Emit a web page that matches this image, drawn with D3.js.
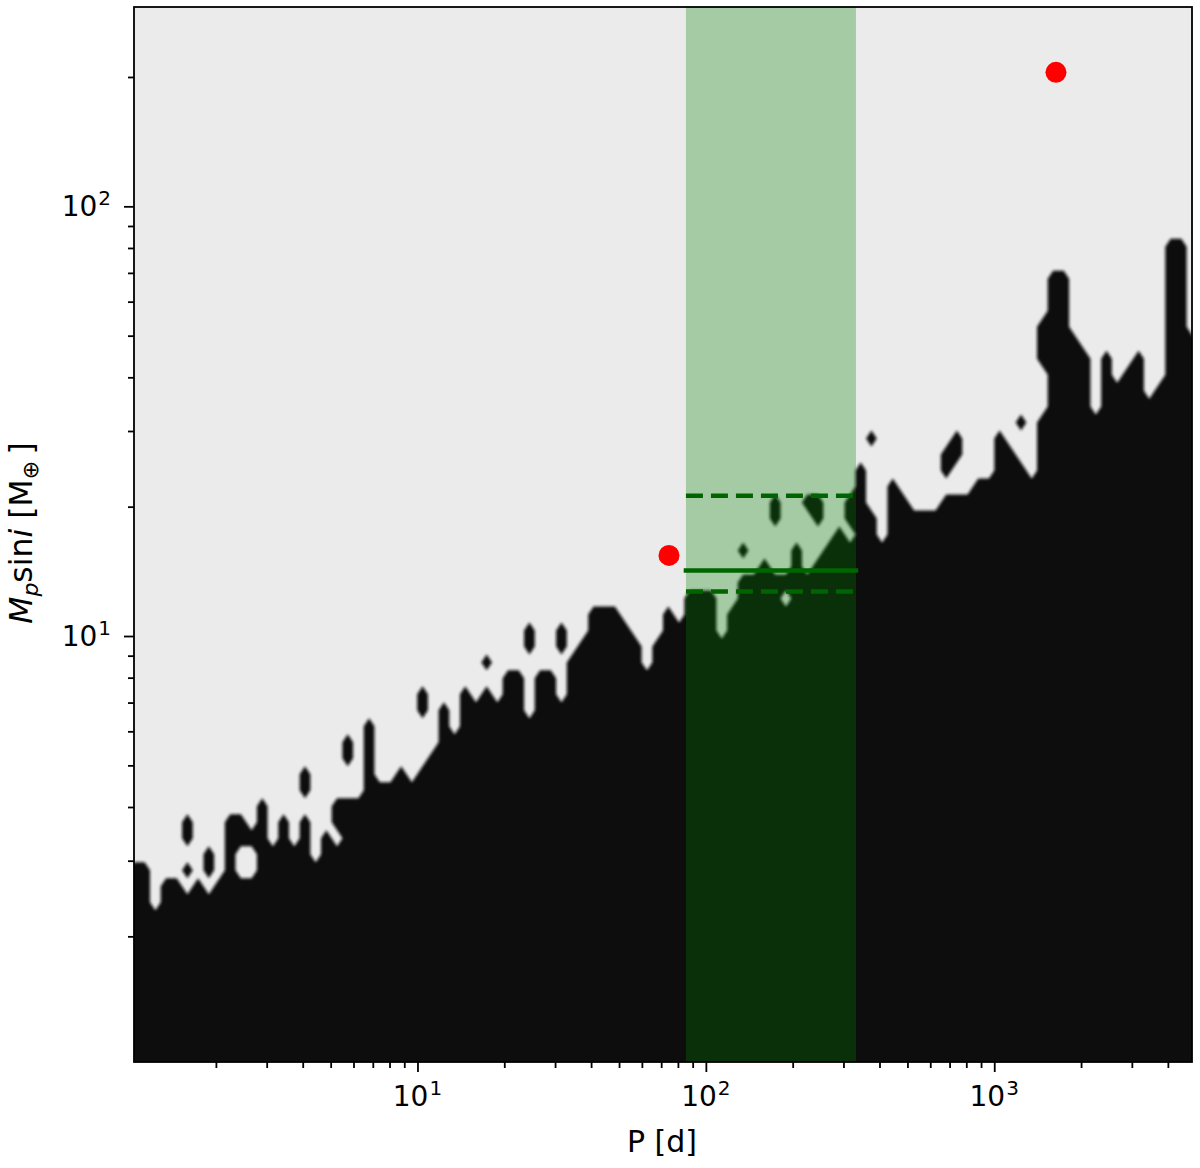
<!DOCTYPE html>
<html>
<head>
<meta charset="utf-8">
<script src="https://cdn.jsdelivr.net/npm/d3@7"></script>
<style>
  body { margin: 0; background: #fff; }
  text { font-family: "DejaVu Sans", sans-serif; fill: #000; }
</style>
</head>
<body>
<svg id="chart" width="1200" height="1168"></svg>
<script>
// detection map: 100 period columns x 67 mass rows, log spaced
const periodRange = [1.04, 4850];
const massRange = [1.02, 291];
const nCols = 100, nRows = 67;

// highest detected mass in every period column [M_earth]
const detLimit = [
  2.85, 2.85, 2.21, 2.62, 2.62, 2.85, 2.62, 3.11, 2.62, 3.69,
  3.69, 3.38, 4.02, 3.11, 3.69, 3.11, 3.69, 2.85, 3.38, 4.02,
  4.02, 4.02, 6.17, 4.38, 4.38, 4.77, 4.38, 4.77, 5.19, 6.72,
  5.66, 7.32, 6.72, 7.32, 6.72, 7.97, 7.97, 6.17, 7.97, 7.97,
  6.72, 8.68, 9.46, 11.2, 11.2, 11.2, 10.3, 9.46, 7.97, 9.46,
  11.2, 10.3, 12.2, 12.2, 12.2, 9.46, 11.2, 13.3, 13.3, 14.5,
  13.3, 13.3, 15.8, 13.3, 14.5, 15.8, 17.2, 20.5, 24.3, 18.8,
  15.8, 22.3, 20.5, 18.8, 18.8, 18.8, 20.5, 20.5, 20.5, 22.3,
  22.3, 28.8, 26.4, 24.3, 22.3, 31.4, 67.9, 67.9, 48.2, 44.2,
  31.4, 44.2, 37.3, 40.6, 44.2, 34.2, 37.3, 80.5, 80.5, 48.2
];

// detected cells lying above the limit: [period, mass low, mass high]
const islands = [
  [1.59, 3.38, 3.69], [4.07, 4.38, 4.77], [5.73, 5.19, 5.66],
  [10.4, 6.72, 7.32], [17.0, 8.68, 8.68], [24.5, 9.46, 10.3],
  [31.6, 9.46, 10.3], [135, 15.8, 15.8], [174, 18.8, 20.5],
  [225, 20.5, 20.5], [245, 18.8, 20.5], [375, 28.8, 28.8],
  [682, 24.3, 26.4], [742, 26.4, 28.8], [1239, 31.4, 31.4],
  [1469, 44.2, 52.5]
];

// undetected cells lying below the limit: [period, mass low, mass high]
const holes = [
  [1.59, 2.62, 2.62], [1.89, 2.62, 2.62], [2.44, 2.85, 3.11],
  [2.66, 2.85, 3.11], [5.26, 3.38, 3.38], [190, 12.2, 12.2],
  [316, 17.2, 17.2]
];

const hzPeriod = [85.3, 331.5];     // shaded period band
const fitMass = 14.2;               // solid line
const fitMassRange = [12.7, 21.2];  // dashed lines
const planets = [[74.5, 15.4], [1637, 205]];

const xTicks = [10, 100, 1000];
const yTicks = [10, 100];

const pLeft = 134, pRight = 1192, pTop = 7, pBottom = 1062;

const x = d3.scaleLog().domain(periodRange).range([pLeft, pRight]);
const y = d3.scaleLog().domain(massRange).range([pBottom, pTop]);

const svg = d3.select('#chart');
const defs = svg.append('defs');
defs.append('clipPath').attr('id', 'plotClip')
    .append('rect')
    .attr('x', pLeft).attr('y', pTop)
    .attr('width', pRight - pLeft).attr('height', pBottom - pTop);
defs.append('filter').attr('id', 'soft')
    .append('feGaussianBlur').attr('stdDeviation', 1.6);

const plot = svg.append('g').attr('clip-path', 'url(#plotClip)');

plot.append('rect')
    .attr('x', pLeft).attr('y', pTop)
    .attr('width', pRight - pLeft).attr('height', pBottom - pTop)
    .attr('fill', '#ebebeb');

// grid of detected (1) / not detected (0) cells
const lp0 = Math.log10(periodRange[0]);
const stepP = (Math.log10(periodRange[1]) - lp0) / (nCols - 1);
const lm0 = Math.log10(massRange[0]);
const stepM = (Math.log10(massRange[1]) - lm0) / (nRows - 1);
const colOf = p => Math.round((Math.log10(p) - lp0) / stepP);
const rowOf = m => Math.round((Math.log10(m) - lm0) / stepM);

const grid = new Array(nCols * nRows).fill(0);
detLimit.forEach((m, c) => {
    const topRow = rowOf(m);
    for (let r = 0; r <= topRow; r++) grid[r * nCols + c] = 1;
});
islands.forEach(([p, lo, hi]) => {
    const c = colOf(p);
    for (let r = rowOf(lo); r <= rowOf(hi); r++) grid[r * nCols + c] = 1;
});
holes.forEach(([p, lo, hi]) => {
    const c = colOf(p);
    for (let r = rowOf(lo); r <= rowOf(hi); r++) grid[r * nCols + c] = 0;
});

const contours = d3.contours().size([nCols, nRows]).thresholds([0.5])(grid);

const toScreen = d3.geoTransform({
    point(cx, cy) {
        this.stream.point(
            x(10 ** (lp0 + (cx - 0.5) * stepP)),
            y(10 ** (lm0 + (cy - 0.5) * stepM))
        );
    }
});

plot.append('path')
    .datum(contours[0])
    .attr('d', d3.geoPath(toScreen))
    .attr('fill', '#111111')
    .attr('filter', 'url(#soft)');

// shaded band
plot.append('rect')
    .attr('x', x(hzPeriod[0]))
    .attr('width', x(hzPeriod[1]) - x(hzPeriod[0]))
    .attr('y', pTop).attr('height', pBottom - pTop)
    .attr('fill', 'green')
    .attr('fill-opacity', 0.3);

plot.append('line')
    .attr('x1', x(hzPeriod[0])).attr('x2', x(hzPeriod[1]))
    .attr('y1', y(fitMass)).attr('y2', y(fitMass))
    .attr('stroke', '#006400').attr('stroke-width', 4.5)
    .attr('stroke-linecap', 'square');

plot.selectAll('.err-line')
    .data(fitMassRange)
    .enter().append('line')
    .attr('class', 'err-line')
    .attr('x1', x(hzPeriod[0])).attr('x2', x(hzPeriod[1]))
    .attr('y1', d => y(d)).attr('y2', d => y(d))
    .attr('stroke', '#006400').attr('stroke-width', 4.5)
    .attr('stroke-dasharray', '17,8');

plot.selectAll('.planet')
    .data(planets)
    .enter().append('circle')
    .attr('class', 'planet')
    .attr('cx', d => x(d[0]))
    .attr('cy', d => y(d[1]))
    .attr('r', 10.5)
    .attr('fill', '#ff0000');

// axes
const isPow10 = v => Math.abs(Math.log10(v) - Math.round(Math.log10(v))) < 1e-9;
const xMinor = x.ticks().filter(v => !isPow10(v));
const yMinor = y.ticks().filter(v => !isPow10(v));

function styleAxis(g) {
    g.select('.domain').remove();
    g.selectAll('.tick line').attr('stroke', '#000').attr('stroke-width', 1.8);
    g.selectAll('.tick text').remove();
}

svg.append('g').attr('transform', `translate(0,${pBottom})`)
    .call(d3.axisBottom(x).tickValues(xTicks).tickSize(10)).call(styleAxis);
svg.append('g').attr('transform', `translate(0,${pBottom})`)
    .call(d3.axisBottom(x).tickValues(xMinor).tickSize(6)).call(styleAxis);
svg.append('g').attr('transform', `translate(${pLeft},0)`)
    .call(d3.axisLeft(y).tickValues(yTicks).tickSize(10)).call(styleAxis);
svg.append('g').attr('transform', `translate(${pLeft},0)`)
    .call(d3.axisLeft(y).tickValues(yMinor).tickSize(6)).call(styleAxis);

function powLabel(sel) {
    sel.append('tspan').text('10');
    sel.append('tspan')
        .attr('dy', -11)
        .attr('dx', 1)
        .style('font-size', '20px')
        .text(d => Math.round(Math.log10(d)));
}

svg.selectAll('.xlab')
    .data(xTicks)
    .enter().append('text')
    .attr('class', 'xlab')
    .attr('x', d => x(d))
    .attr('y', 1105.5)
    .attr('text-anchor', 'middle')
    .style('font-size', '28px')
    .call(powLabel);

svg.selectAll('.ylab')
    .data(yTicks)
    .enter().append('text')
    .attr('class', 'ylab')
    .attr('x', 111)
    .attr('y', d => y(d) + 10)
    .attr('text-anchor', 'end')
    .style('font-size', '28px')
    .call(powLabel);

svg.append('rect')
    .attr('x', pLeft).attr('y', pTop)
    .attr('width', pRight - pLeft).attr('height', pBottom - pTop)
    .attr('fill', 'none')
    .attr('stroke', '#000')
    .attr('stroke-width', 1.8);

// axis titles
svg.append('text')
    .attr('x', 662).attr('y', 1152)
    .attr('text-anchor', 'middle')
    .style('font-size', '30px')
    .text('P [d]');

const yTitle = svg.append('text')
    .attr('transform', 'translate(32,533) rotate(-90)')
    .attr('text-anchor', 'middle')
    .style('font-size', '31.5px');
yTitle.append('tspan').style('font-style', 'italic').text('M');
yTitle.append('tspan').style('font-style', 'italic').style('font-size', '22px').attr('dy', 6).text('p');
yTitle.append('tspan').attr('dy', -6).text('sin');
yTitle.append('tspan').style('font-style', 'italic').text('i');
yTitle.append('tspan').text(' [M');
yTitle.append('tspan').style('font-size', '22px').attr('dy', 6).text('\u2295');
yTitle.append('tspan').attr('dy', -6).text('\u2009]');
</script>
</body>
</html>
